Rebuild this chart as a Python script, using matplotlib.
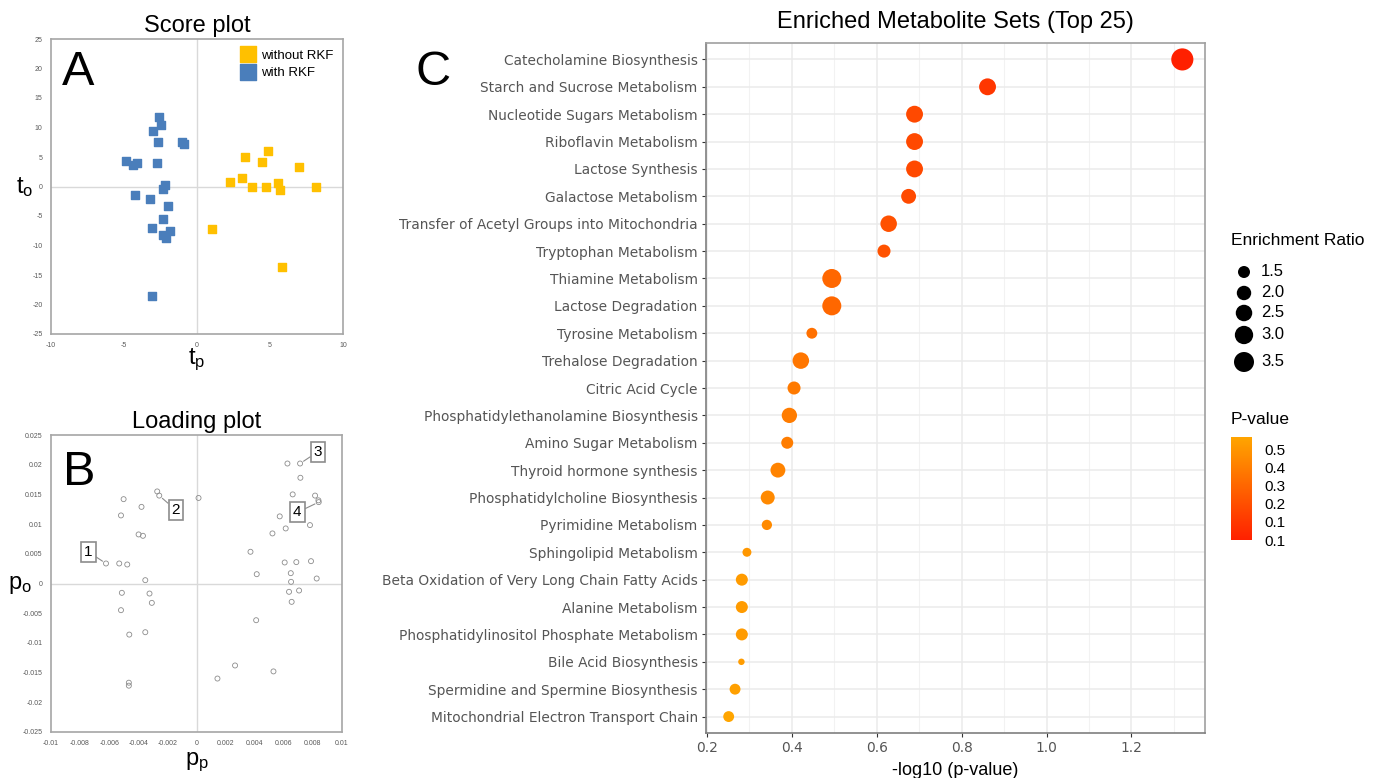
import numpy as np
import matplotlib
matplotlib.use('Agg')
import matplotlib.pyplot as plt
from matplotlib.colors import LinearSegmentedColormap, Normalize
from matplotlib.ticker import FuncFormatter, MultipleLocator

# score plot (t_p, t_o)
with_rkf_tp = [-2.62, -2.46, -3.0, -2.69, -1.03, -0.91, -4.83, -4.37, -4.12, -2.71, -2.16,
               -2.32, -4.24, -3.19, -1.96, -2.30, -3.08, -2.30, -2.14, -1.82, -3.05]
with_rkf_to = [11.8, 10.45, 9.4, 7.46, 7.57, 7.18, 4.4, 3.67, 3.95, 3.9, 0.28,
               -0.45, -1.47, -2.09, -3.33, -5.54, -6.95, -8.14, -8.81, -7.46, -18.5]
without_rkf_tp = [3.28, 4.83, 4.44, 6.99, 3.08, 2.28, 3.78, 4.76, 5.54, 5.69, 8.18, 1.03, 5.85]
without_rkf_to = [5.08, 5.99, 4.07, 3.33, 1.36, 0.68, -0.11, 0.0, 0.56, -0.56, -0.11, -7.23, -13.56]

# loading plot (p_p, p_o)
load_pp = [-0.00622, -0.00531, -0.00476, -0.00501, -0.00519, -0.00378, -0.00398, -0.00368,
           -0.00270, -0.00256, 0.00014, -0.00352, -0.00513, -0.00323, -0.00307, -0.00519,
           -0.00352, -0.00462, -0.00465, -0.00465, 0.00144, 0.00265, 0.00529, 0.00410,
           0.00371, 0.00414, 0.00522, 0.00572, 0.00613, 0.00625, 0.00712, 0.00714, 0.00661,
           0.00815, 0.00840, 0.00838, 0.00780, 0.00606, 0.00686, 0.00787, 0.00826, 0.00648,
           0.00650, 0.00636, 0.00705, 0.00654]
load_po = [0.00337, 0.00337, 0.00320, 0.01420, 0.01146, 0.01290, 0.00826, 0.00803,
           0.01550, 0.01480, 0.01440, 0.00056, -0.00157, -0.00169, -0.00326, -0.00449,
           -0.00820, -0.00860, -0.01670, -0.01720, -0.01600, -0.01380, -0.01480, -0.00618,
           0.00534, 0.00157, 0.00843, 0.01130, 0.00927, 0.02020, 0.02020, 0.01780, 0.01500,
           0.01480, 0.01370, 0.01400, 0.00983, 0.00354, 0.00360, 0.00376, 0.00084, 0.00174,
           0.00028, -0.00140, -0.00118, -0.00309]
# numbered callouts: (label, point index, box position)
callouts = [('1', 0, (-0.00744, 0.00534)),
            ('2', 9, (-0.00142, 0.01236)),
            ('3', 30, (0.00835, 0.02220)),
            ('4', 34, (0.00693, 0.01197))]

# enrichment analysis
sets = ['Catecholamine Biosynthesis', 'Starch and Sucrose Metabolism',
        'Nucleotide Sugars Metabolism', 'Riboflavin Metabolism', 'Lactose Synthesis',
        'Galactose Metabolism', 'Transfer of Acetyl Groups into Mitochondria',
        'Tryptophan Metabolism', 'Thiamine Metabolism', 'Lactose Degradation',
        'Tyrosine Metabolism', 'Trehalose Degradation', 'Citric Acid Cycle',
        'Phosphatidylethanolamine Biosynthesis', 'Amino Sugar Metabolism',
        'Thyroid hormone synthesis', 'Phosphatidylcholine Biosynthesis',
        'Pyrimidine Metabolism', 'Sphingolipid Metabolism',
        'Beta Oxidation of Very Long Chain Fatty Acids', 'Alanine Metabolism',
        'Phosphatidylinositol Phosphate Metabolism', 'Bile Acid Biosynthesis',
        'Spermidine and Spermine Biosynthesis', 'Mitochondrial Electron Transport Chain']
neglog_p = [1.32, 0.861, 0.689, 0.689, 0.689, 0.675, 0.628, 0.617, 0.494, 0.494,
            0.447, 0.421, 0.405, 0.394, 0.389, 0.367, 0.343, 0.341, 0.294, 0.282,
            0.282, 0.282, 0.281, 0.266, 0.251]
enrich_ratio = [4.2, 2.6, 2.6, 2.6, 2.6, 2.1, 2.5, 1.7, 3.2, 3.2,
                1.3, 2.5, 1.7, 2.2, 1.5, 2.1, 1.9, 1.2, 1.0, 1.5,
                1.5, 1.5, 0.7, 1.3, 1.3]
ratio_legend = [1.5, 2.0, 2.5, 3.0, 3.5]
pval_labels = ['0.5', '0.4', '0.3', '0.2', '0.1', '0.1']

pvals = 10 ** (-np.array(neglog_p))


def dot_size(r):
    # area grows linearly with the enrichment ratio
    d_px = np.sqrt(128 * np.asarray(r) - 48)
    return (d_px * 0.72) ** 2


def excel_num(v, pos):
    return '%g' % (round(v, 4) + 0.0)


plt.rcParams['font.family'] = ['Liberation Sans', 'DejaVu Sans']

fig = plt.figure(figsize=(13.94, 7.78), dpi=100)
W, H = 1394, 778


def px_axes(x0, y0, x1, y1):
    return fig.add_axes([x0 / W, 1 - y1 / H, (x1 - x0) / W, (y1 - y0) / H])


def excel_style(ax):
    for s in ax.spines.values():
        s.set_color('#a6a6a6')
        s.set_linewidth(1.2)
    ax.tick_params(length=0, labelsize=5, labelcolor='#595959', pad=6)
    ax.axhline(0, color='#d9d9d9', lw=1, zorder=0)
    ax.axvline(0, color='#d9d9d9', lw=1, zorder=0)
    ax.xaxis.set_major_formatter(FuncFormatter(excel_num))
    ax.yaxis.set_major_formatter(FuncFormatter(excel_num))


# ---- A: score plot
axA = px_axes(51, 39, 343, 334)
excel_style(axA)
axA.scatter(without_rkf_tp, without_rkf_to, marker='s', s=34, color='#FFC000',
            label='without RKF', zorder=3)
axA.scatter(with_rkf_tp, with_rkf_to, marker='s', s=34, color='#4A7EBB',
            label='with RKF', zorder=3)
axA.set_xlim(-10, 10)
axA.set_ylim(-25, 25)
axA.xaxis.set_major_locator(MultipleLocator(5))
axA.yaxis.set_major_locator(MultipleLocator(5))
axA.legend(loc='upper right', frameon=False, fontsize=9.5, handlelength=1.0,
           handleheight=1.0, handletextpad=0.5, markerscale=1.9, borderaxespad=0.3,
           labelspacing=0.3)
axA.set_title('Score plot', fontsize=17, pad=5)
fig.text(25 / W, 1 - 187 / H, r'$\mathregular{t_o}$', fontsize=17, ha='center', va='center')
fig.text(197 / W, 1 - 360 / H, r'$\mathregular{t_p}$', fontsize=17, ha='center', va='center')
fig.text(62 / W, 1 - 85 / H, 'A', fontsize=35, ha='left', va='baseline')

# ---- B: loading plot
axB = px_axes(51, 435, 342, 732)
excel_style(axB)
axB.scatter(load_pp, load_po, s=13, facecolors='none', edgecolors='#8c8c8c',
            linewidths=0.6, zorder=3)
axB.set_xlim(-0.01, 0.01)
axB.set_ylim(-0.025, 0.025)
axB.xaxis.set_major_locator(MultipleLocator(0.002))
axB.yaxis.set_major_locator(MultipleLocator(0.005))
for lab, idx, (bx, by) in callouts:
    axB.annotate(lab, xy=(load_pp[idx], load_po[idx]), xytext=(bx, by),
                 fontsize=11, ha='center', va='center',
                 bbox=dict(boxstyle='square,pad=0.2', fc='white', ec='#8c8c8c', lw=1.2),
                 arrowprops=dict(arrowstyle='-', color='#8c8c8c', lw=0.8,
                                 shrinkA=0, shrinkB=3))
axB.set_title('Loading plot', fontsize=17, pad=5)
fig.text(20 / W, 1 - 585 / H, r'$\mathregular{p_o}$', fontsize=17, ha='center', va='center')
fig.text(197 / W, 1 - 762 / H, r'$\mathregular{p_p}$', fontsize=17, ha='center', va='center')
fig.text(63 / W, 1 - 485 / H, 'B', fontsize=35, ha='left', va='baseline')

# ---- C: enrichment dot plot
cmap = LinearSegmentedColormap.from_list('pv', ['#FF2000', '#FFA500'])
norm = Normalize(vmin=pvals.min(), vmax=pvals.max())

axC = px_axes(706, 43, 1205, 733)
ypos = np.arange(len(sets))[::-1]
axC.scatter(neglog_p, ypos, s=dot_size(enrich_ratio), c=pvals, cmap=cmap, norm=norm,
            edgecolors='none', zorder=3)
lo, hi = min(neglog_p), max(neglog_p)
pad = (hi - lo) * 0.05
axC.set_xlim(lo - pad, hi + pad)
axC.set_ylim(-0.6, len(sets) - 0.4)
axC.set_yticks(ypos)
axC.set_yticklabels(sets, family='DejaVu Sans', fontsize=9.9, color='#555555')
axC.xaxis.set_major_locator(MultipleLocator(0.2))
axC.xaxis.set_minor_locator(MultipleLocator(0.1))
axC.tick_params(axis='x', which='major', labelsize=9.9, labelcolor='#555555',
                length=3, color='#333333', pad=3)
axC.tick_params(axis='x', which='minor', length=0)
axC.tick_params(axis='y', length=3, color='#333333', pad=3)
for lab in axC.get_xticklabels():
    lab.set_family('DejaVu Sans')
axC.grid(True, which='major', color='#ebebeb', lw=1.1, zorder=0)
axC.grid(True, which='minor', axis='x', color='#f2f2f2', lw=0.8, zorder=0)
for s in axC.spines.values():
    s.set_color('#a0a0a0')
    s.set_linewidth(1.2)
axC.spines['left'].set_color('#7f7f7f')
axC.spines['bottom'].set_color('#7f7f7f')
axC.set_title('Enriched Metabolite Sets (Top 25)', fontsize=17, pad=11)
axC.set_xlabel('-log10 (p-value)', fontsize=13, labelpad=5)
fig.text(415 / W, 1 - 85 / H, 'C', fontsize=35, ha='left', va='baseline')

# size legend
legax = px_axes(1225, 225, 1394, 380)
legax.set_xlim(1225, 1394)
legax.set_ylim(380, 225)
legax.axis('off')
legax.text(1231, 241, 'Enrichment Ratio', fontsize=12.5, va='center', ha='left')
leg_y = [272, 293, 313, 335, 362]
legax.scatter([1244] * len(ratio_legend), leg_y, s=dot_size(ratio_legend), color='black',
              edgecolors='none', clip_on=False)
for r, yy in zip(ratio_legend, leg_y):
    legax.text(1261, yy, '%.1f' % r, fontsize=12, va='center', ha='left')

# p-value colour bar, labels evenly spaced along the bar
fig.text(1231 / W, 1 - 420 / H, 'P-value', fontsize=12.5, va='center', ha='left')
cax = px_axes(1231, 437, 1252, 540)
sm = plt.cm.ScalarMappable(norm=norm, cmap=cmap)
cb = fig.colorbar(sm, cax=cax)
cb.outline.set_visible(False)
frac = np.linspace(0.88, 0.0, len(pval_labels))
cb.set_ticks(norm.vmin + frac * (norm.vmax - norm.vmin))
cb.set_ticklabels(pval_labels)
cax.tick_params(length=3, color='white', width=0.6, labelsize=11, pad=6)

fig.savefig('out.png', dpi=100)
